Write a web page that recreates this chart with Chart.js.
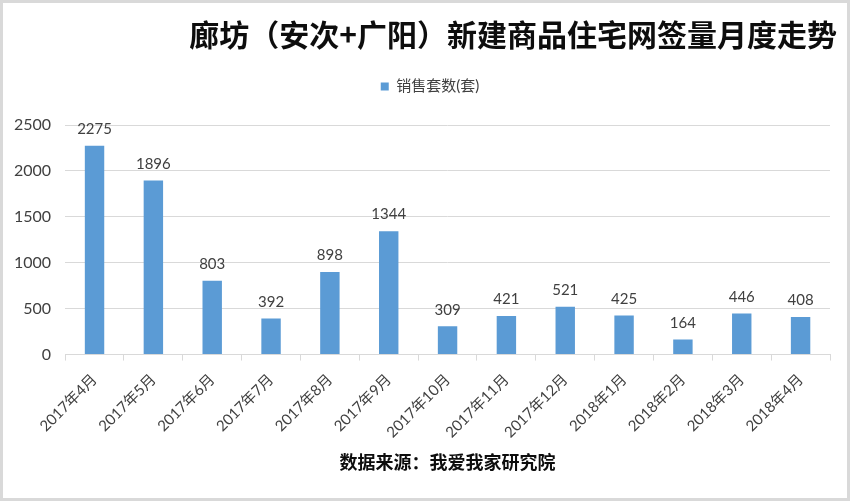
<!DOCTYPE html>
<html><head><meta charset="utf-8">
<script src="https://cdn.jsdelivr.net/npm/chart.js@4/dist/chart.umd.min.js"></script>
<style>html,body{margin:0;padding:0;background:#fff}#wrap{width:850px;height:501px}</style>
</head><body><div id="wrap"><canvas id="c" width="850" height="501"></canvas></div>
<script>
const categories = ["2017年4月","2017年5月","2017年6月","2017年7月","2017年8月","2017年9月","2017年10月","2017年11月","2017年12月","2018年1月","2018年2月","2018年3月","2018年4月"];
const salesUnits = [2275,1896,803,392,898,1344,309,421,521,425,164,446,408];
const seriesName = "销售套数(套)";
const titleText = "廊坊（安次+广阳）新建商品住宅网签量月度走势";
const sourceText = "数据来源：我爱我家研究院";
const yTicks = [0,500,1000,1500,2000,2500];

const FONT = 'Lato, "Noto Sans CJK SC", sans-serif';

const frame = {
  id:'frame',
  beforeDraw(chart){
    const ctx = chart.ctx;
    ctx.save();
    ctx.fillStyle = '#fff';
    ctx.fillRect(0,0,chart.width,chart.height);
    ctx.strokeStyle = '#d9d9d9';
    ctx.lineWidth = 3;
    ctx.strokeRect(1.5,1.5,chart.width-3,chart.height-3);
    ctx.restore();
  }
};
const shiftBoxes = {
  id:'shiftBoxes',
  afterLayout(chart){
    const lg = chart.legend;
    if (lg) { lg.left += 15; lg.right += 15; }
    const tt = chart.titleBlock;
    if (tt) { tt.left += 7; tt.right += 7; }
  }
};
const valueLabels = {
  id:'valueLabels',
  afterDatasetsDraw(chart){
    const ctx = chart.ctx;
    const meta = chart.getDatasetMeta(0);
    ctx.save();
    ctx.font = '15px ' + FONT;
    ctx.fillStyle = '#404040';
    ctx.textAlign = 'center';
    ctx.textBaseline = 'bottom';
    meta.data.forEach((bar,i)=>{
      ctx.fillText(String(salesUnits[i]), bar.x, bar.y - 9);
    });
    ctx.restore();
  }
};

new Chart(document.getElementById('c'), {
  type:'bar',
  data:{labels:categories, datasets:[{label:seriesName, data:salesUnits, backgroundColor:'#5B9BD5', borderWidth:0, categoryPercentage:1, barPercentage:0.33}]},
  options:{
    responsive:false, animation:false,
    layout:{padding:{top:17,left:0,right:20,bottom:28}},
    plugins:{
      title:{display:true, text:titleText, align:'end', color:'#0d0d0d', font:{family:'"Noto Sans CJK SC", sans-serif', size:30, weight:'bold'}, padding:{top:0,bottom:12}},
      subtitle:{display:true, text:' ', weight:500, font:{size:10}, padding:{top:5,bottom:4}},
      legend:{display:true, position:'top', labels:{boxWidth:8, boxHeight:8, color:'#404040', font:{family:FONT, size:15}, padding:14}},
      tooltip:{enabled:false}
    },
    scales:{
      x:{
        grid:{display:true, drawOnChartArea:false, drawTicks:true, tickLength:6, color:'#d9d9d9', offset:true},
        border:{color:'#d9d9d9', width:1},
        ticks:{color:'#404040', font:{family:FONT, size:15}, maxRotation:45, minRotation:45, padding:10},
        title:{display:true, text:sourceText, color:'#0d0d0d', font:{family:'"Noto Sans CJK SC", sans-serif', size:18, weight:'bold'}, padding:{top:0,bottom:0}}
      },
      y:{
        min:0, max:2500,
        afterBuildTicks(axis){ axis.ticks = yTicks.map(v=>({value:v})); },
        grid:{color:'#d9d9d9', drawTicks:false},
        border:{display:false},
        ticks:{color:'#404040', font:{family:FONT, size:16}, padding:14, callback:(v)=>String(v)}
      }
    }
  },
  plugins:[frame, shiftBoxes, valueLabels]
});
</script></body></html>
